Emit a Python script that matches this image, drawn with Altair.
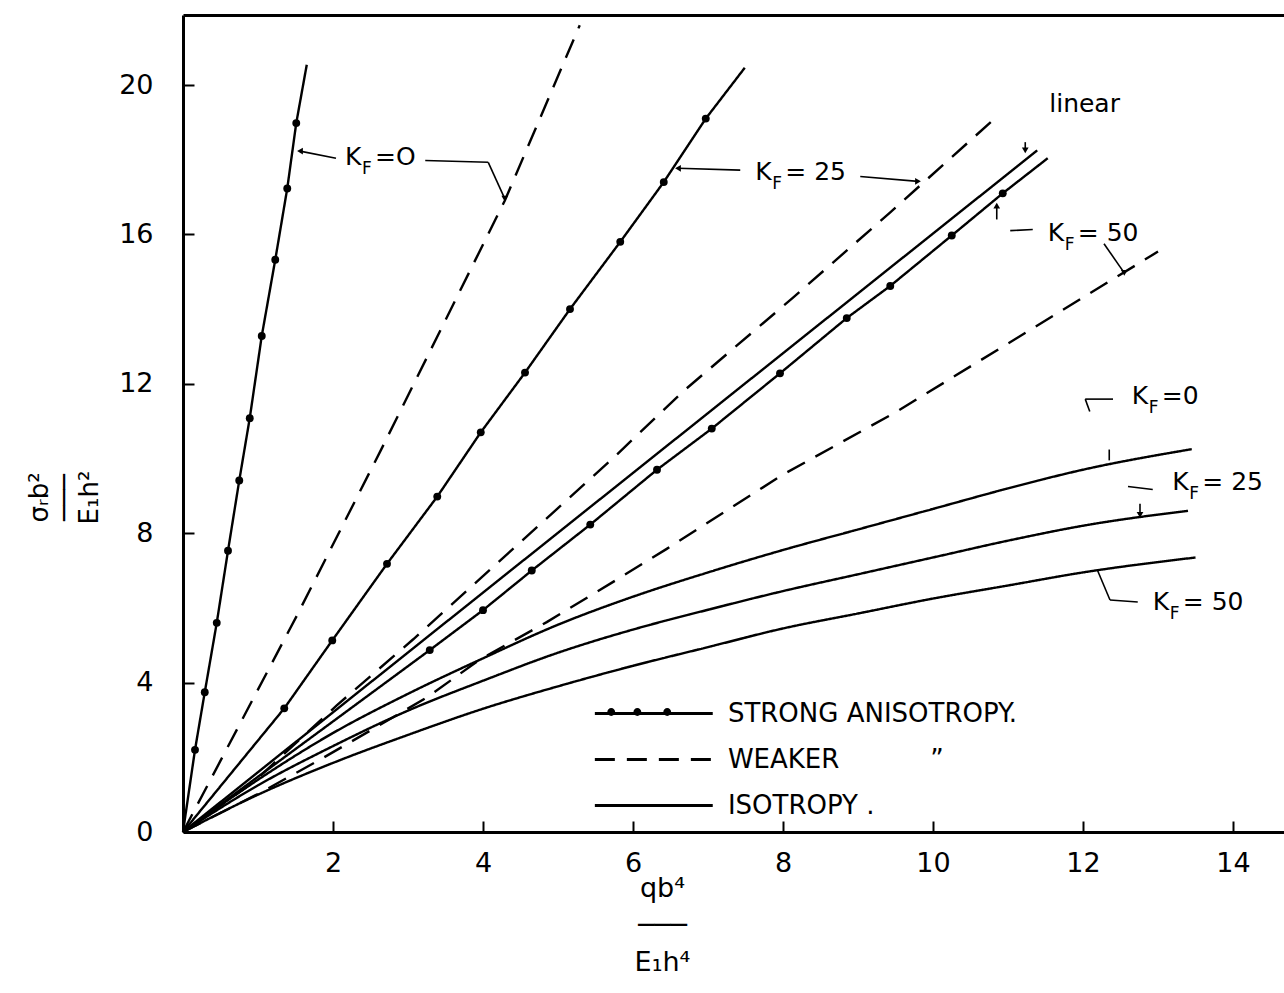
import altair as alt
import pandas as pd

# ---------------- data ----------------
# strong anisotropy (solid line with dots)
strong0_x = [0, 0.16, 0.29, 0.45, 0.60, 0.75, 0.89, 1.05, 1.23, 1.39, 1.51, 1.65]
strong0_y = [0, 2.2, 3.74, 5.6, 7.53, 9.41, 11.08, 13.28, 15.32, 17.23, 18.98, 20.54]
strong25_x = [0, 1.35, 1.99, 2.72, 3.39, 3.97, 4.56, 5.16, 5.83, 6.41, 6.97, 7.49]
strong25_y = [0, 3.31, 5.13, 7.18, 8.98, 10.7, 12.3, 14.0, 15.8, 17.4, 19.1, 20.46]
strong50_x = [0, 3.29, 4.0, 4.65, 5.43, 6.32, 7.05, 7.96, 8.85, 9.43, 10.25, 10.93, 11.53]
strong50_y = [0, 4.87, 5.94, 7.0, 8.23, 9.7, 10.8, 12.28, 13.76, 14.62, 15.97, 17.1, 18.04]

# weaker anisotropy (dashed)
weak0_x = [0, 1.52, 2.63, 4.29, 5.29]
weak0_y = [0, 5.8, 10.19, 16.9, 21.6]
weak25_x = [0, 0.93, 2.05, 3.07, 4.4, 5.73, 6.67, 8.13, 9.43, 10.8]
weak25_y = [0, 1.32, 3.39, 5.16, 7.58, 10.0, 11.8, 14.3, 16.59, 19.06]
weak50_x = [0, 1.03, 1.83, 2.45, 3.25, 3.96, 4.85, 5.73, 6.45, 8.0, 9.52, 13.0]
weak50_y = [0, 1.05, 1.94, 2.66, 3.6, 4.62, 5.62, 6.69, 7.58, 9.57, 11.26, 15.54]

# isotropy (solid)
isolin_x = [0, 11.39]
isolin_y = [0, 18.25]
iso0_x = [0, 1, 2, 3, 4, 5, 6, 7, 8, 9, 10, 11, 12, 13.45]
iso0_y = [0, 1.4, 2.65, 3.7, 4.65, 5.55, 6.3, 6.95, 7.55, 8.1, 8.65, 9.2, 9.7, 10.25]
iso25_x = [0, 1, 2, 3, 4, 5, 6, 7, 8, 9, 10, 11, 12, 13.4]
iso25_y = [0, 1.25, 2.3, 3.25, 4.05, 4.8, 5.42, 5.95, 6.45, 6.9, 7.35, 7.8, 8.2, 8.6]
iso50_x = [0, 1, 2, 3, 4, 5, 6, 7, 8, 9, 10, 11, 12, 13.5]
iso50_y = [0, 1.0, 1.85, 2.6, 3.3, 3.9, 4.45, 4.95, 5.45, 5.85, 6.25, 6.6, 6.95, 7.35]

x_ticks = [2, 4, 6, 8, 10, 12, 14]
y_ticks = [0, 4, 8, 12, 16, 20]
y_inner_ticks = [4, 8, 12, 16, 20]

STRONG = "STRONG ANISOTROPY."
WEAKER = "WEAKER" + "\u00a0" * 11 + "\u201d"
ISO = "ISOTROPY ."
styles = [STRONG, WEAKER, ISO]

# annotation labels  K_F = ...
ann_x = [2.16, 7.63, 11.53, 12.65, 13.19, 12.93]
ann_y = [17.85, 17.45, 15.83, 11.45, 9.17, 5.94]
ann_rest = ["=O", " = 25", "= 50", "=0", "= 25", " = 50"]

linear_x = [11.55]
linear_y = [19.27]
linear_text = ["linear"]

# leader lines of the annotations
lead_x = [2.04, 3.23, 4.07, 7.43, 9.03, 11.03, 10.85, 12.28, 11.23, 12.03, 12.03, 12.35, 12.6, 12.76, 12.19, 12.36]
lead_y = [18.04, 17.98, 17.93, 17.72, 17.55, 16.10, 16.40, 15.75, 18.47, 11.59, 11.59, 10.24, 9.25, 8.79, 7.02, 6.21]
lead_x2 = [1.56, 4.07, 4.29, 6.60, 9.80, 11.33, 10.85, 12.55, 11.23, 12.40, 12.09, 12.35, 12.93, 12.76, 12.36, 12.73]
lead_y2 = [18.23, 17.93, 16.96, 17.77, 17.42, 16.13, 16.77, 14.97, 18.25, 11.59, 11.26, 9.95, 9.17, 8.49, 6.21, 6.16]

# arrow heads at the leader tips
arrow_x = [1.56, 4.29, 6.60, 9.80, 10.85, 12.55, 11.23, 12.76]
arrow_y = [18.23, 16.96, 17.77, 17.42, 16.77, 14.97, 18.25, 8.49]
arrow_shape = ["triangle-left", "triangle-down", "triangle-left", "triangle-right",
               "triangle-up", "triangle-down", "triangle-down", "triangle-down"]

# ---------------- build tables ----------------
series = [
    ("s0", STRONG, strong0_x, strong0_y),
    ("s25", STRONG, strong25_x, strong25_y),
    ("s50", STRONG, strong50_x, strong50_y),
    ("w0", WEAKER, weak0_x, weak0_y),
    ("w25", WEAKER, weak25_x, weak25_y),
    ("w50", WEAKER, weak50_x, weak50_y),
    ("ilin", ISO, isolin_x, isolin_y),
    ("i0", ISO, iso0_x, iso0_y),
    ("i25", ISO, iso25_x, iso25_y),
    ("i50", ISO, iso50_x, iso50_y),
]
curved = {"i0", "i25", "i50"}
rows = []
for name, style, xs_, ys_ in series:
    n = len(xs_)
    for i, (a, b) in enumerate(zip(xs_, ys_)):
        rows.append({"series": name, "style": style, "x": a, "y": b, "i": i,
                     "curved": name in curved,
                     "dot": style == STRONG and 0 < i < n - 1})
df = pd.DataFrame(rows)
dots = df[df["dot"]].copy()
dots["dotkey"] = dots["style"]
straight_df = df[~df["curved"]]
curved_df = df[df["curved"]]

ann = pd.DataFrame({"x": ann_x, "y": ann_y, "k": ["K"] * len(ann_x),
                    "sub": ["F"] * len(ann_x), "rest": ann_rest})
lin = pd.DataFrame({"x": linear_x, "y": linear_y, "t": linear_text})
leads = pd.DataFrame({"x": lead_x, "y": lead_y, "x2": lead_x2, "y2": lead_y2})
arrows = pd.DataFrame({"x": arrow_x, "y": arrow_y, "shape": arrow_shape})

# ---------------- layout ----------------
W, H = 1101, 817
PX_X, PX_Y = 75.0, 37.35
FONT = "DejaVu Sans"
xs = alt.Scale(domain=[0, W / PX_X], nice=False, zero=False)
ys = alt.Scale(domain=[0, H / PX_Y], nice=False, zero=False)

series_names = [s[0] for s in series]
widths = [2.4, 2.4, 2.4, 3.6, 3.6, 3.6, 2.2, 3.0, 3.0, 3.0]
dash_scale = alt.Scale(domain=styles, range=[[1, 0], [20, 12], [1, 0]])
width_scale = alt.Scale(domain=series_names, range=widths)

x_main = alt.Axis(values=x_ticks, ticks=False, grid=False, domainColor="black", domainWidth=3,
                  labelFont=FONT, labelFontSize=27, labelColor="black", labelPadding=18,
                  title=["qb\u2074", "\u2500\u2500\u2500", "E\u2081h\u2074"], titleFont=FONT,
                  titleFontSize=27, titleFontWeight="normal", titleColor="black",
                  titleX=479, titleY=56, titleBaseline="middle", titleAlign="center",
                  titleLineHeight=37)
y_main = alt.Axis(values=y_ticks, ticks=False, grid=False, domainColor="black", domainWidth=3,
                  labelFont=FONT, labelFontSize=27, labelColor="black", labelPadding=30,
                  title=["\u03c3\u1d63b\u00b2", "\u2500\u2500\u2500", "E\u2081h\u00b2"], titleFont=FONT,
                  titleFontSize=26, titleFontWeight="normal", titleColor="black",
                  titleX=-144, titleY=482, titleBaseline="middle", titleAlign="center",
                  titleAngle=270, titleLineHeight=25)

# legend symbol: custom path three times as wide as its nominal size
SYM = 39.3
LEG_X, LEG_Y, LEG_OFF, LEG_FS = 410 + SYM, 677, 52.6, 26


def dot_path(cs, r=0.2):
    parts = []
    for c in cs:
        parts.append(f"M{c - r:.2f},0A{r},{r} 0 1,0 {c + r:.2f},0A{r},{r} 0 1,0 {c - r:.2f},0Z")
    return "".join(parts)


legend = alt.Legend(title=None, orient="none", legendX=LEG_X, legendY=LEG_Y,
                    symbolType="M-3,0H3", symbolSize=SYM * SYM, symbolStrokeWidth=3,
                    symbolStrokeColor="black", labelFont=FONT, labelFontSize=LEG_FS,
                    labelColor="black", labelLimit=500, labelOffset=LEG_OFF, rowPadding=11)
dot_legend = alt.Legend(title=None, orient="none", legendX=LEG_X, legendY=LEG_Y,
                        symbolSize=SYM * SYM, symbolStrokeWidth=0, symbolFillColor="black",
                        symbolOpacity=1, labelFont=FONT, labelFontSize=LEG_FS, labelOpacity=0,
                        labelExpr="''", labelLimit=500, labelOffset=LEG_OFF, rowPadding=11)

lines = alt.Chart(straight_df).mark_line(color="black", interpolate="linear", strokeCap="butt").encode(
    x=alt.X("x:Q", scale=xs, axis=x_main),
    y=alt.Y("y:Q", scale=ys, axis=y_main),
    detail="series:N",
    order="i:Q",
    strokeDash=alt.StrokeDash("style:N", scale=dash_scale, legend=legend),
    strokeWidth=alt.StrokeWidth("series:N", scale=width_scale, legend=None),
)
curves = alt.Chart(curved_df).mark_line(color="black", interpolate="monotone", strokeCap="butt").encode(
    x=alt.X("x:Q", scale=xs, axis=None),
    y=alt.Y("y:Q", scale=ys, axis=None),
    detail="series:N",
    order="i:Q",
    strokeDash=alt.StrokeDash("style:N", scale=dash_scale, legend=None),
    strokeWidth=alt.StrokeWidth("series:N", scale=width_scale, legend=None),
)

pts = alt.Chart(dots).mark_circle(color="black", opacity=1, size=62).encode(
    x=alt.X("x:Q", scale=xs, axis=None), y=alt.Y("y:Q", scale=ys, axis=None))

# invisible layer that only provides the dots on the legend's first symbol
dot_leg = alt.Chart(dots).mark_point(opacity=0, filled=True, color="black").encode(
    x=alt.X("x:Q", scale=xs, axis=None), y=alt.Y("y:Q", scale=ys, axis=None),
    shape=alt.Shape("dotkey:N", scale=alt.Scale(domain=[STRONG], range=[dot_path([-2.09, -0.76, 0.76])]),
                    legend=dot_legend))

rules = alt.Chart(leads).mark_rule(color="black", strokeWidth=1.6).encode(
    x=alt.X("x:Q", scale=xs, axis=None), y=alt.Y("y:Q", scale=ys, axis=None),
    x2="x2:Q", y2="y2:Q")

heads = alt.Chart(arrows).mark_point(filled=True, color="black", opacity=1, size=45).encode(
    x=alt.X("x:Q", scale=xs, axis=None), y=alt.Y("y:Q", scale=ys, axis=None),
    shape=alt.Shape("shape:N", scale=None, legend=None))

tk = alt.Chart(ann).mark_text(font=FONT, fontSize=25, align="left", baseline="alphabetic", color="black").encode(
    x=alt.X("x:Q", scale=xs, axis=None), y=alt.Y("y:Q", scale=ys, axis=None), text="k:N")
tf = alt.Chart(ann).mark_text(font=FONT, fontSize=17, align="left", baseline="alphabetic", color="black",
                              dx=17, dy=9).encode(
    x=alt.X("x:Q", scale=xs, axis=None), y=alt.Y("y:Q", scale=ys, axis=None), text="sub:N")
tr = alt.Chart(ann).mark_text(font=FONT, fontSize=25, align="left", baseline="alphabetic", color="black",
                              dx=30).encode(
    x=alt.X("x:Q", scale=xs, axis=None), y=alt.Y("y:Q", scale=ys, axis=None), text="rest:N")
tl = alt.Chart(lin).mark_text(font=FONT, fontSize=25, align="left", baseline="alphabetic", color="black").encode(
    x=alt.X("x:Q", scale=xs, axis=None), y=alt.Y("y:Q", scale=ys, axis=None), text="t:N")

# inward ticks (axes shifted onto the opposite edge) and top frame line
inner = alt.Chart(df).mark_point(opacity=0).encode(
    x=alt.X("x:Q", scale=xs, axis=alt.Axis(orient="top", offset=-H, values=x_ticks, labels=False,
                                           domain=False, ticks=True, tickSize=11, tickWidth=2,
                                           tickColor="black", grid=False, title=None)),
    y=alt.Y("y:Q", scale=ys, axis=alt.Axis(orient="right", offset=-W, values=y_inner_ticks, labels=False,
                                           domain=False, ticks=True, tickSize=11, tickWidth=2,
                                           tickColor="black", grid=False, title=None)))
frame = alt.Chart(df).mark_point(opacity=0).encode(
    x=alt.X("x:Q", scale=xs, axis=alt.Axis(orient="top", labels=False, ticks=False, domain=True,
                                           domainColor="black", domainWidth=3, grid=False, title=None)),
    y=alt.Y("y:Q", scale=ys, axis=None))

chart = alt.layer(lines, curves, pts, dot_leg, rules, heads, tk, tf, tr, tl, inner, frame).resolve_axis(
    x="independent", y="independent"
).properties(
    width=W, height=H,
    autosize=alt.AutoSizeParams(type="none"),
    padding={"left": 183, "top": 15, "right": 0, "bottom": 161},
    background="white",
).configure_view(stroke=None)

chart.save("out.html", embed_options={"renderer": "svg", "actions": False})
